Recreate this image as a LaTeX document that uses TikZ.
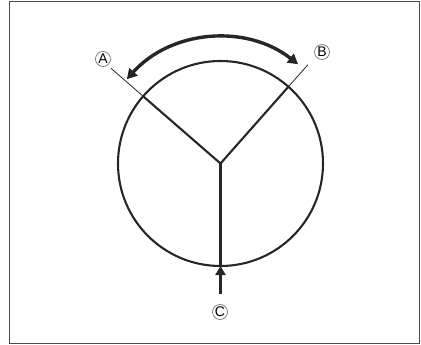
\documentclass[tikz,border=0pt]{standalone}
\usepackage{fontspec}
\setmainfont{Liberation Sans}
\usetikzlibrary{arrows.meta,calc}
\begin{document}
\begin{tikzpicture}[x=1pt,y=-1pt,
  heavy/.style={line width=2.1pt,black!85},
  fine/.style={line width=0.8pt,black!85},
  lbl/.style={circle,draw=black!60,line width=0.6pt,inner sep=0.3pt,minimum size=15pt,font=\fontsize{14}{14}\selectfont}
]
\useasboundingbox (0,0) rectangle (421,345);
\draw[line width=1pt,black!70] (9,2) rectangle (419,343);
\coordinate (O) at (220.5,163.5);
\draw[heavy] (O) circle[radius=102.5];
% spokes
\coordinate (Ain) at ($(O)+(-139:102.5)$);
\coordinate (Aout) at ($(O)+(-139:145)$);
\coordinate (Bin) at ($(O)+(-48.5:102.5)$);
\coordinate (Bout) at ($(O)+(-48.5:132)$);
\coordinate (Cin) at ($(O)+(0,102.5)$);
\draw[heavy] (O) -- (Ain);
\draw[fine] (Ain) -- (Aout);
\draw[heavy] (O) -- (Bin);
\draw[fine] (Bin) -- (Bout);
\draw[heavy] (O) -- (Cin);
% labels
\node[lbl] (A) at (103,59) {A};
\node[lbl] (B) at (322,52) {B};
\node[lbl] (C) at (220,312) {C};
% double arc arrow
\coordinate (arcB) at ($(O)+(-52:126)$);
\draw[line width=3.4pt,black!85,{Triangle[length=10pt,width=11pt]}-{Triangle[length=10pt,width=11pt]}]
  (arcB) arc[start angle=-52,end angle=-138,radius=126];
% C arrow
\coordinate (Cstart) at (220.5,294);
\draw[line width=3.4pt,black!85,-{Triangle[length=9pt,width=10pt]}] (Cstart) -- (Cin);
\end{tikzpicture}
\end{document}
